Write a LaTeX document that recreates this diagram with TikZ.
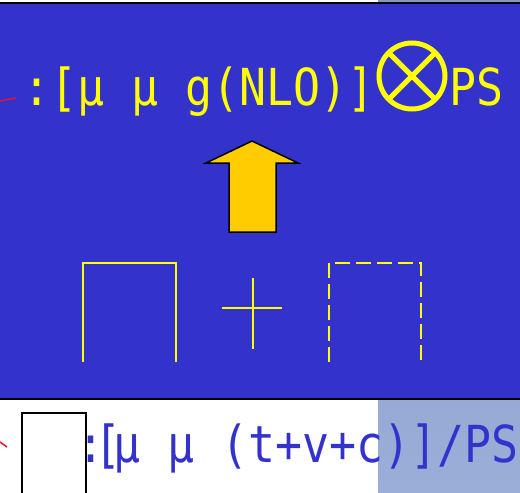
\documentclass[tikz,border=0pt]{standalone}
\usepackage{fontspec}
\setmonofont[FakeStretch=0.88]{DejaVu Sans Mono}
\usetikzlibrary{calc}
\definecolor{slideblue}{RGB}{51,51,204}
\definecolor{slideyellow}{RGB}{255,255,0}
\definecolor{arrowgold}{RGB}{255,204,0}
\definecolor{sidetop}{RGB}{132,154,198}
\definecolor{sidebottom}{RGB}{154,174,216}
\definecolor{markred}{RGB}{230,20,40}
\tikzset{
    bigtext/.style={inner sep=0pt, anchor=base west,
        font=\ttfamily\fontsize{51}{60}\selectfont},
    solidframe/.style={draw=slideyellow, line width=1.2pt},
    dashframe/.style={draw=slideyellow, line width=2pt, dash pattern=on 15pt off 6pt},
    blockarrow/.style={fill=arrowgold, draw=black, line width=1.5pt, line join=miter},
    redtick/.style={draw=markred, line width=1.5pt}
}

\begin{document}
\begin{tikzpicture}[x=1pt, y=-1pt]

    \useasboundingbox (0,0) rectangle (520,493);
    \fill[white] (0,0) rectangle (520,493);
    \shade[top color=sidetop, bottom color=sidebottom] (378,0) rectangle (520,493);

    % blue panel
    \fill[slideblue] (-5,3) rectangle (525,399);
    \draw[black, line width=1.5pt] (-5,3) -- (525,3);
    \draw[black, line width=1.5pt] (-5,399) -- (525,399);

    % top formula
    \node[bigtext, text=slideyellow] (toptext) at (23,105) {:[μ μ g(NLO)]};
    \coordinate (otimes) at (412,76);
    \draw[slideyellow, line width=5pt] (otimes) circle (33);
    \draw[slideyellow, line width=5pt] ($(otimes)+(-23.5,-23.5)$) -- ($(otimes)+(23.5,23.5)$);
    \draw[slideyellow, line width=5pt] ($(otimes)+(-23.5,23.5)$) -- ($(otimes)+(23.5,-23.5)$);
    \node[bigtext, text=slideyellow] (topps) at (449,105) {PS};
    \draw[redtick] (0,101) -- (16,98);

    % block arrow
    \draw[blockarrow] (229,232) -- (229,163) -- (206,163) -- (252,141)
        -- (298,163) -- (276,163) -- (276,232) -- cycle;

    % graphs: solid + dashed
    \draw[solidframe] (83,362) -- (83,263) -- (176,263) -- (176,362);
    \draw[slideyellow, line width=1.2pt] (222,308) -- (282,308);
    \draw[slideyellow, line width=1.2pt] (253,278) -- (253,349);
    \draw[dashframe] (329,362) -- (329,263) -- (421,263) -- (421,362);

    % bottom formula
    \draw[black, line width=1.5pt] (22,493) -- (22,413) -- (86,413) -- (86,493);
    \draw[redtick] (0,442) -- (7,447);
    \node[bigtext, text=slideblue] (botcolon) at (77,462) {:};
    \node[bigtext, text=slideblue] (botbrk) at (94,462) {[};
    \node[bigtext, text=slideblue] (bottext) at (113,462) {μ μ (t+v+c)]/PS};

\end{tikzpicture}
\end{document}
